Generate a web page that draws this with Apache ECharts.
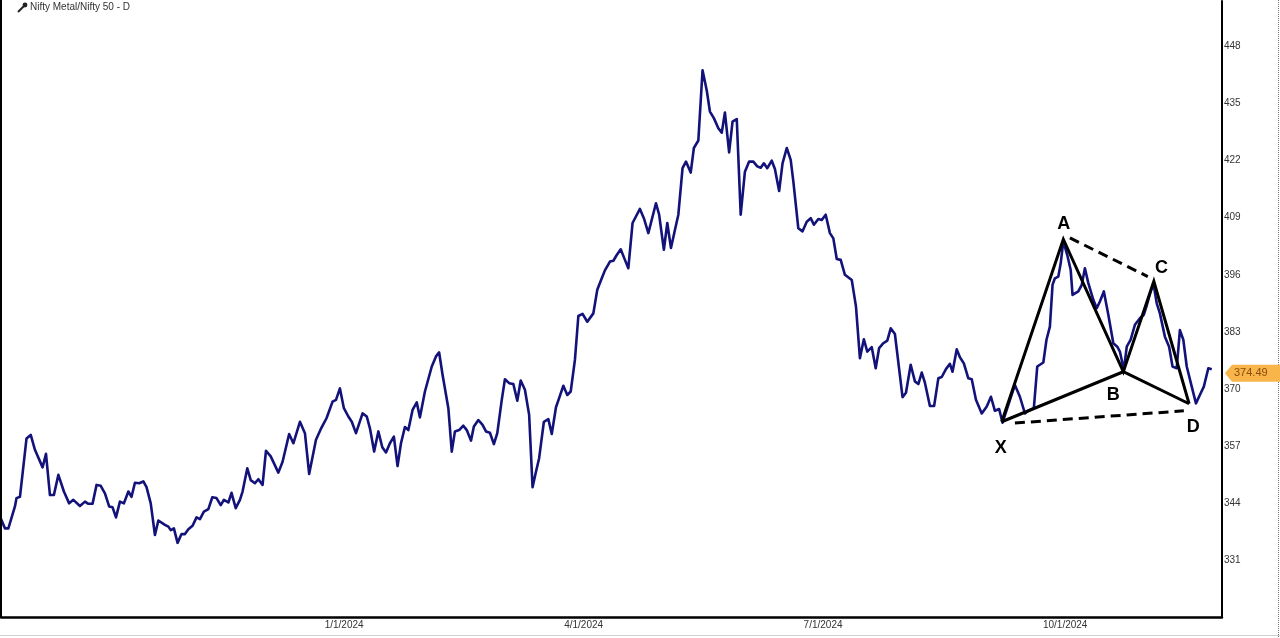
<!DOCTYPE html>
<html>
<head>
<meta charset="utf-8">
<script src="https://cdn.jsdelivr.net/npm/echarts@6/dist/echarts.min.js"></script>
<style>
html,body{margin:0;padding:0;background:#fff;}
#chart{width:1280px;height:638px;}
</style>
</head>
<body>
<div id="chart"></div>
<script>
// x = days since 1/1/2024, y = Nifty Metal / Nifty 50 ratio
const days = [
-130.8,-128.9,-127.6,-125.1,-124.5,-123.2,-120.7,-119.1,-117.5,-114.6,
-113.3,-111.8,-110.3,-108.6,-106.5,-104.5,-102.9,-100.4,-98.5,-97.2,
-95.6,-94.1,-92.5,-90.9,-89.3,-88.0,-86.7,-85.2,-83.7,-82.0,
-80.8,-79.5,-77.9,-76.3,-75.1,-73.5,-71.9,-70.6,-68.1,-66.8,
-65.9,-64.7,-63.3,-61.8,-60.5,-59.2,-57.6,-56.1,-54.8,-53.3,
-51.6,-50.1,-48.5,-46.9,-45.7,-44.0,-42.8,-41.2,-39.6,-38.6,
-36.8,-35.5,-33.9,-32.6,-31.0,-29.7,-27.9,-25.0,-23.4,-20.9,
-19.3,-16.8,-14.9,-13.3,-10.7,-8.9,
-6.7,-4.4,-3.1,-1.6,-0.1,1.6,2.9,4.5,7.0,8.6,9.8,11.4,13.0,14.5,15.9,17.4,18.9,20.3,21.6,23.1,
24.4,26.0,27.6,28.8,30.7,33.3,34.9,36.1,37.4,39.6,40.9,42.1,43.7,45.3,46.6,48.2,49.3,51.0,52.6,53.9,
55.4,56.9,58.2,59.9,61.1,62.7,64.3,65.8,67.1,68.7,70.3,71.6,72.9,74.1,75.9,77.6,78.9,80.5,81.7,83.3,
84.8,86.1,87.7,89.0,
90.6,92.4,94.7,96.2,97.9,99.1,101.0,102.3,103.6,105.1,106.7,108.0,109.6,112.4,113.9,115.6,118.5,119.7,121.5,122.8,
124.2,125.7,127.0,128.6,129.9,131.7,132.9,134.6,136.2,137.8,139.0,140.5,142.2,143.5,144.7,146.3,147.6,149.2,150.7,152.3,
153.9,155.5,157.0,158.3,159.5,160.8,162.5,163.7,165.3,166.6,168.2,169.7,170.7,172.6,174.2,175.8,177.3,178.5,180.2,181.5,
183.0,184.6,185.9,
187.2,188.7,190.3,192.9,194.5,196.0,197.5,198.8,200.5,202.0,203.3,204.9,206.4,207.7,209.3,212.2,213.5,215.3,216.9,218.2,
219.5,220.7,222.6,224.2,225.8,227.1,228.7,230.2,231.2,232.8,234.0,235.5,237.2,238.5,240.1,242.3,244.2,245.8,247.3,248.9,
250.2,
254.9,256.8,258.7,260.0,262.1,263.4,264.1,265.7,266.9,268.2,269.2,270.1,271.4,272.3,273.3,274.8,276.1,276.8,279.0,280.3,
281.5,282.8,284.7,286.0,287.2,288.7,290.4,292.3,293.8,294.8,296.3,297.4,298.9,300.5,302.4,303.9,304.9,306.2,307.5,308.8,
310.0,311.9,313.5,314.8,316.4,317.6,318.9,320.2,322.1,323.7,325.5,326.7,328.4,329.7
];
const ratio = [
340.9,338.2,338.2,343.2,345.1,345.4,358.7,359.5,356.1,352.1,
355.2,345.8,345.8,350.4,346.6,343.9,344.7,343.3,344.3,343.8,
343.8,348.1,347.9,346.2,343.2,343.0,340.7,344.3,343.9,346.6,
345.4,348.6,348.5,348.9,347.6,343.9,336.7,340.0,339.0,338.6,
337.8,338.2,334.9,336.9,336.9,338.0,338.8,340.7,340.3,342.0,
342.6,345.3,345.1,343.5,344.7,344.1,346.3,342.8,344.7,346.6,
351.9,349.2,348.5,349.4,348.1,355.9,354.6,350.9,353.4,359.7,
357.6,362.5,359.9,350.6,358.4,360.8,
363.3,367.1,367.5,370.1,365.6,363.7,362.5,359.9,364.4,363.7,361.0,355.7,360.3,356.7,355.5,357.6,359.1,352.4,357.6,361.3,
360.6,365.2,366.9,363.5,369.4,375.1,377.4,378.3,373.2,365.6,355.7,360.3,360.6,361.6,360.6,358.2,361.4,362.9,361.8,360.3,
360.0,357.4,359.9,367.5,372.2,371.3,371.1,367.3,371.9,369.8,364.1,347.6,351.1,354.2,362.5,363.1,359.7,365.8,367.9,370.7,
368.6,369.4,376.6,386.6,
387.1,385.3,387.2,392.6,395.2,397.0,399.0,399.2,400.5,401.8,399.4,397.5,407.8,411.0,408.9,405.5,412.3,409.7,401.7,407.8,
402.1,406.2,409.7,420.3,421.8,419.3,424.9,426.6,442.6,438.0,433.2,431.7,429.4,428.4,433.0,423.9,430.9,431.5,409.7,419.5,
421.8,421.8,420.7,420.4,421.4,420.3,422.0,420.1,415.1,421.4,424.9,422.2,417.3,406.6,405.9,408.1,408.9,407.4,408.7,408.5,
409.7,405.5,404.3,
399.6,399.4,396.0,394.8,388.8,377.0,381.3,378.5,379.5,374.7,379.3,380.4,381.0,383.8,382.5,368.1,369.1,375.5,371.7,371.1,
373.7,371.4,366.1,366.1,372.4,372.7,374.5,375.7,373.9,379.0,377.2,375.8,372.4,372.2,367.5,364.4,366.0,368.2,365.0,365.4,
362.3,
370.9,368.2,364.4,365.0,365.6,375.1,375.5,376.0,381.2,384.2,393.7,395.2,395.6,398.6,403.6,400.5,397.1,391.4,392.2,393.7,
397.5,394.1,390.3,388.4,389.9,392.2,386.9,380.4,379.6,378.5,374.3,379.6,381.2,384.6,386.1,386.9,388.8,391.6,394.1,389.5,
387.2,381.9,379.6,375.1,374.7,383.4,381.2,375.1,370.5,366.7,369.0,370.5,374.7,374.49
];
const lastValue = 374.49;

// x-axis tick labels (day offsets from 1/1/2024)
const xTickDays = [0, 91, 182, 274];
const xTickLabels = ['1/1/2024', '4/1/2024', '7/1/2024', '10/1/2024'];
// y-axis ticks: 331 .. 448 step 13
const yTickStep = 13;

// harmonic pattern points X A B C D
const patternNames = ['X', 'A', 'B', 'C', 'D'];
const patternDays = [249.9, 273.3, 296.1, 307.7, 321.1];
const patternValues = [362.5, 404.1, 373.9, 394.5, 366.6];
// dashed guide lines A-C and X-D
const acDashDays = [275.8, 305.4];
const acDashValues = [404.4, 395.6];
const xdDashDays = [254.9, 319.1];
const xdDashValues = [362.2, 365.0];
// label anchors for the pattern letters
const letterDays = [249.5, 273.5, 292.3, 310.6, 322.7];
const letterValues = [356.5, 407.6, 368.6, 397.5, 361.4];

const mainData = days.map((d, i) => [d, ratio[i]]);
const pts = i => [patternDays[i], patternValues[i]];
const pathXABCD = [0, 1, 2, 3, 4].map(pts);
const pathXBD = [0, 2, 4].map(pts);
const acDash = acDashDays.map((d, i) => [d, acDashValues[i]]);
const xdDash = xdDashDays.map((d, i) => [d, xdDashValues[i]]);
const letters = patternNames.map((n, i) => ({ name: n, value: [letterDays[i], letterValues[i]] }));

const chart = echarts.init(document.getElementById('chart'), null, { renderer: 'canvas' });
const FONT = 'Liberation Sans, Arial, sans-serif';

const blackLine = (data, dash) => ({
  type: 'line', data, symbol: 'none', silent: true, z: 5, animation: false,
  lineStyle: { color: '#000', width: 3, type: dash ? [10, 6] : 'solid', join: 'miter', cap: 'butt' }
});

chart.setOption({
  animation: false,
  backgroundColor: '#fff',
  grid: { left: 1, right: 58, top: 1, bottom: 21, containLabel: false },
  xAxis: {
    type: 'value', min: -130.4, max: 333.6,
    axisLine: { show: true, onZero: false, lineStyle: { color: '#000', width: 2.5 } },
    axisTick: { show: false },
    splitLine: { show: false },
    axisLabel: {
      customValues: xTickDays,
      formatter: v => { const k = xTickDays.indexOf(Math.round(v)); return k >= 0 ? xTickLabels[k] : ''; },
      fontSize: 10, color: '#333', fontFamily: FONT, margin: 3
    }
  },
  yAxis: {
    type: 'value', position: 'right', min: 318, max: 458.4, interval: yTickStep,
    axisLine: { show: true, onZero: false, lineStyle: { color: '#000', width: 2 } },
    axisTick: { show: false },
    splitLine: { show: false },
    axisLabel: { fontSize: 10, color: '#333', fontFamily: FONT, margin: 2, showMinLabel: false, showMaxLabel: false }
  },
  series: [
    { type: 'line', data: mainData, symbol: 'none', z: 3, lineStyle: { color: '#12127a', width: 2.6, join: 'round' } },
    blackLine(pathXABCD, false),
    blackLine(pathXBD, false),
    blackLine(acDash, true),
    blackLine(xdDash, true),
    {
      type: 'scatter', data: letters, symbolSize: 0, z: 6, silent: true,
      itemStyle: { opacity: 1, color: '#000' },
      label: { show: true, position: 'inside', formatter: '{b}', fontSize: 18, fontWeight: 900, color: '#000',
               opacity: 1, textBorderWidth: 0, fontFamily: FONT }
    }
  ]
});

const yTag = chart.convertToPixel({ yAxisIndex: 0 }, lastValue) + 4;
chart.setOption({
  graphic: [
    { type: 'line', shape: { x1: 1, y1: 0, x2: 1, y2: 618 }, style: { stroke: '#000', lineWidth: 2 }, z: 10 },
    { type: 'line', shape: { x1: 1278.5, y1: 0, x2: 1278.5, y2: 638 }, style: { stroke: '#777', lineWidth: 1, lineDash: [1, 1] }, z: 10 },
    { type: 'line', shape: { x1: 0, y1: 635.5, x2: 1280, y2: 635.5 }, style: { stroke: '#d0d0d0', lineWidth: 1 }, z: 10 },
    // wrench icon
    { type: 'line', shape: { x1: 18, y1: 12, x2: 24, y2: 6 }, style: { stroke: '#222', lineWidth: 2 }, z: 10 },
    { type: 'circle', shape: { cx: 25, cy: 5, r: 2.4 }, style: { fill: '#222' }, z: 10 },
    { type: 'text', left: 30, top: 2, style: { text: 'Nifty Metal/Nifty 50 - D', font: '10px ' + FONT, fill: '#333' }, z: 10 },
    // last value tag
    { type: 'polygon', shape: { points: [[1225, yTag], [1232, yTag - 8.5], [1280, yTag - 8.5], [1280, yTag + 8.5], [1232, yTag + 8.5]] }, style: { fill: '#F7B54A' }, z: 11 },
    { type: 'text', x: 1234, y: yTag, style: { text: lastValue.toFixed(2), font: '11px ' + FONT, fill: '#8f4a0c', verticalAlign: 'middle' }, z: 12 }
  ]
});
</script>
</body>
</html>
